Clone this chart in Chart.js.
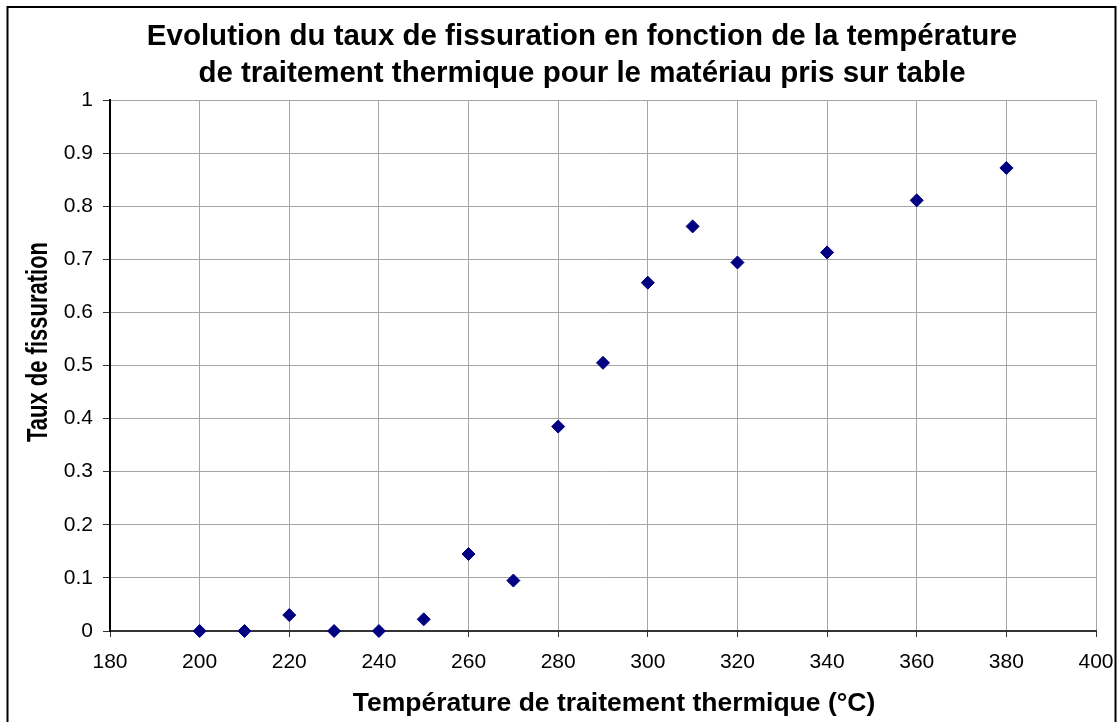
<!DOCTYPE html>
<html>
<head>
<meta charset="utf-8">
<script src="https://cdn.jsdelivr.net/npm/chart.js@4/dist/chart.umd.min.js"></script>
<style>
  html, body { margin: 0; padding: 0; background: #fff; }
  #wrap { width: 1118px; height: 722px; }
</style>
</head>
<body>
<div id="wrap"><canvas id="c" width="1118" height="722"></canvas></div>
<script>
// Heat-treatment temperature (°C) and measured cracking rate
const temperatures = [200, 210, 220, 230, 240, 250, 260, 270, 280, 290, 300, 310, 320, 340, 360, 380];
const crackRates   = [0, 0, 0.03, 0, 0, 0.022, 0.145, 0.095, 0.385, 0.505, 0.656, 0.762, 0.694, 0.713, 0.811, 0.872];

const xTickLabels = ['180', '200', '220', '240', '260', '280', '300', '320', '340', '360', '380', '400'];
const yTickLabels = ['0', '0.1', '0.2', '0.3', '0.4', '0.5', '0.6', '0.7', '0.8', '0.9', '1'];

const titleLines = [
  'Evolution du taux de fissuration en fonction de la température',
  'de traitement thermique pour le matériau pris sur table'
];
const xAxisTitle = 'Température de traitement thermique (°C)';
const yAxisTitle = 'Taux de fissuration';

const FONT = "'Liberation Sans', Arial, Helvetica, sans-serif";
Chart.defaults.font.family = FONT;
Chart.defaults.color = '#000';

// Outer frame plus the chart and axis titles
const frameAndTitles = {
  id: 'frameAndTitles',
  beforeDraw(chart) {
    const ctx = chart.ctx;
    ctx.save();
    ctx.fillStyle = '#fff';
    ctx.fillRect(0, 0, chart.width, chart.height);
    ctx.restore();
  },
  afterDraw(chart) {
    const ctx = chart.ctx;
    ctx.save();
    // frame
    ctx.strokeStyle = '#000';
    ctx.lineWidth = 2;
    ctx.strokeRect(7.5, 7, 1108, 730);

    ctx.fillStyle = '#000';
    // main title
    ctx.font = 'bold 29.5px ' + FONT;
    ctx.textAlign = 'center';
    ctx.textBaseline = 'alphabetic';
    ctx.fillText(titleLines[0], 582, 44.5);
    ctx.fillText(titleLines[1], 582, 81.5);

    // x axis title
    ctx.font = 'bold 26.5px ' + FONT;
    ctx.fillText(xAxisTitle, 614, 711);

    // y axis title, rotated and stretched across its height
    ctx.translate(46.5, 342);
    ctx.rotate(-Math.PI / 2);
    ctx.scale(1, 1.3);
    ctx.font = 'bold 22px ' + FONT;
    ctx.textAlign = 'center';
    ctx.textBaseline = 'alphabetic';
    ctx.fillText(yAxisTitle, 0, 0);
    ctx.restore();
  }
};

new Chart(document.getElementById('c'), {
  type: 'scatter',
  data: {
    datasets: [{
      label: yAxisTitle,
      data: temperatures.map((t, i) => ({ x: t, y: crackRates[i] })),
      pointStyle: 'rectRot',
      pointRadius: 6.5,
      pointHoverRadius: 6.5,
      borderWidth: 1,
      backgroundColor: '#000080',
      borderColor: '#000080',
      clip: false
    }]
  },
  options: {
    responsive: false,
    animation: false,
    layout: { padding: { left: 0, top: 100, right: 22, bottom: 0 } },
    plugins: {
      legend: { display: false },
      title: { display: false },
      tooltip: { enabled: false }
    },
    scales: {
      x: {
        type: 'linear',
        min: 180,
        max: 400,
        afterFit(scale) {
          scale.height = 91;
          scale.paddingLeft = 0;
          scale.paddingRight = 0;
        },
        ticks: {
          stepSize: 20,
          padding: 13,
          font: { size: 21 },
          color: '#000',
          maxRotation: 0,
          callback: (v, i) => xTickLabels[i]
        },
        grid: { color: '#a6a6a6', lineWidth: 1, tickLength: 6, tickColor: '#333' },
        border: { color: '#333', width: 2 }
      },
      y: {
        type: 'linear',
        min: 0,
        max: 1,
        afterFit(scale) {
          scale.width = 110;
          scale.paddingTop = 0;
          scale.paddingBottom = 0;
        },
        ticks: {
          stepSize: 0.1,
          padding: 10,
          font: { size: 21 },
          color: '#000',
          callback: (v, i) => yTickLabels[i]
        },
        grid: { color: '#a6a6a6', lineWidth: 1, tickLength: 7, tickColor: '#333' },
        border: { color: '#000', width: 2 }
      }
    }
  },
  plugins: [frameAndTitles]
});
</script>
</body>
</html>
